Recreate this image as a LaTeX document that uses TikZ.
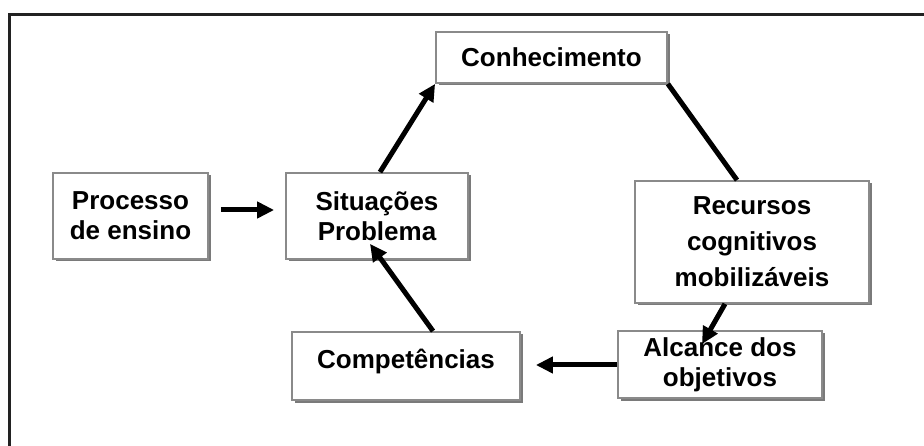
\documentclass[tikz,border=0pt]{standalone}
\usepackage{fontspec}
\setmainfont{Liberation Sans}
\usetikzlibrary{arrows.meta,calc,shadows}
\definecolor{boxline}{HTML}{8A8A8A}
\definecolor{shadowc}{HTML}{7A7A7A}
\definecolor{framec}{HTML}{222222}
\begin{document}
\begin{tikzpicture}[x=1pt,y=-1pt,
  box/.style={draw=boxline, line width=1.8pt, fill=white, inner sep=0pt, align=center,
    font=\fontsize{26}{30}\selectfont\bfseries,
    general shadow={fill=shadowc, shadow xshift=2.5pt, shadow yshift=-2.5pt}},
  conn/.style={line width=5pt, draw=black},
  arr/.style={conn, -{Triangle[length=17pt,width=16pt]}}]
\useasboundingbox (0,0) rectangle (924,446);
\draw[framec, line width=3pt] (9,446) -- (9,14.3) -- (924,14.3);

\node[box, minimum width=231pt, minimum height=51pt] (con) at (551.5,57.5) {Conhecimento};
\node[box, minimum width=155pt, minimum height=86pt] (pro) at (130.5,216) {Processo\\de ensino};
\node[box, minimum width=182pt, minimum height=86pt] (sit) at (377,216) {Situações\\Problema};
\node[box, minimum width=234pt, minimum height=122pt] (rec) at (752,242) {Recursos\\[6pt]cognitivos\\[6pt]mobilizáveis};
\node[box, minimum width=204pt, minimum height=67pt] (alc) at (720,364.5) {Alcance dos\\objetivos};
\node[box, minimum width=228pt, minimum height=68pt, text height=19pt, text depth=13pt] (comp) at (406,366) {Competências};

\draw[arr] ($(pro.east)+(12,-6)$) -- ($(sit.west)+(-11,-6)$);
\draw[arr] ($(sit.north)+(3,0)$) -- (con.south west);
\draw[conn] (con.south east) -- ($(rec.north)+(-15,0)$);
\draw[arr] ($(rec.south)+(-27,0)$) -- ($(alc.north)+(-18,14)$);
\draw[arr] ($(alc.west)+(0,0.5)$) -- ($(comp.east)+(15,-1)$);
\draw[arr] ($(comp.north)+(27,0)$) -- ($(sit.south)+(-7,-16)$);
\end{tikzpicture}
\end{document}
